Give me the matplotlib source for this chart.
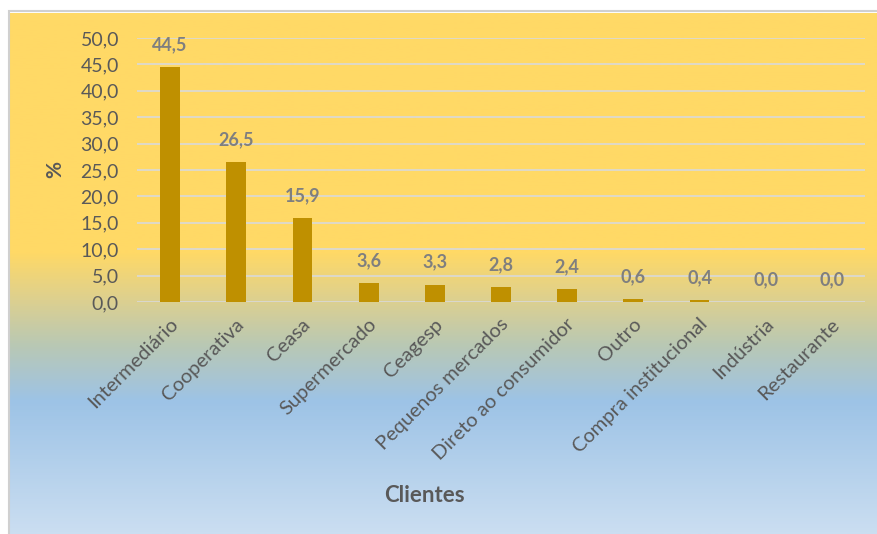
import numpy as np
import matplotlib.pyplot as plt
from matplotlib.colors import LinearSegmentedColormap
from matplotlib.patches import Rectangle
import matplotlib.transforms as mtransforms

plt.rcParams['font.family'] = ['Lato', 'DejaVu Sans']

clientes = ['Intermediário', 'Cooperativa', 'Ceasa', 'Supermercado', 'Ceagesp',
            'Pequenos mercados', 'Direto ao consumidor', 'Outro',
            'Compra institucional', 'Indústria', 'Restaurante']
percentual = [44.5, 26.5, 15.9, 3.6, 3.3, 2.8, 2.4, 0.6, 0.4, 0.0, 0.0]
yticks = [0, 5, 10, 15, 20, 25, 30, 35, 40, 45, 50]

W, H = 878, 534
fig = plt.figure(figsize=(W / 100, H / 100), dpi=100)
fig.patch.set_facecolor('white')

# gradient background for the chart area
bg = fig.add_axes([10 / W, 0, (W - 10) / W, (H - 13) / H])
bg.set_axis_off()
cmap = LinearSegmentedColormap.from_list('fundo', [
    (0.0, '#FFD966'), (0.46, '#FFD966'), (0.55, '#DDD08F'),
    (0.64, '#B8C8B5'), (0.745, '#9DC3E6'), (1.0, '#CBDEF1')])
grad = np.linspace(0, 1, 512).reshape(-1, 1)
bg.imshow(grad, cmap=cmap, aspect='auto', extent=[0, 1, 0, 1], origin='upper')
bg.set_xlim(0, 1)
bg.set_ylim(0, 1)
fig.patches.append(Rectangle((9 / W, -0.02), 1.0, (H - 11.5) / H + 0.02,
                             transform=fig.transFigure, fill=False,
                             edgecolor='#D0D0D0', linewidth=1.5))

ax = fig.add_axes([137 / W, (H - 302) / H, (865 - 137) / W, (302 - 38) / H])
ax.patch.set_alpha(0)
x = np.arange(len(clientes))
ax.bar(x, percentual, width=0.3, color='#BF9000', zorder=3)
ax.set_xlim(-0.5, len(clientes) - 0.5)
ax.set_ylim(0, 50)
ax.set_yticks(yticks)
ax.set_yticklabels([f'{v:.1f}'.replace('.', ',') for v in yticks],
                   color='#595959', fontsize=14)
ax.grid(axis='y', color='#D9D9D9', linewidth=1.2, zorder=0)
for s in ax.spines.values():
    s.set_visible(False)
ax.tick_params(axis='both', length=0)
ax.tick_params(axis='y', pad=13)

ax.set_xticks(x)
ax.set_xticklabels(clientes, rotation=45, ha='right', va='center',
                   rotation_mode='anchor', color='#595959', fontsize=14.5)
ax.tick_params(axis='x', pad=14)
offset = mtransforms.ScaledTranslation(5 / 100, 0, fig.dpi_scale_trans)
for lbl in ax.get_xticklabels():
    lbl.set_transform(lbl.get_transform() + offset)

for xi, v in zip(x, percentual):
    ax.annotate(f'{v:.1f}'.replace('.', ','), (xi, v), xytext=(0, 10),
                textcoords='offset points', ha='center', va='bottom',
                fontsize=13, fontweight='bold', color='#7F7F7F')

fig.text(55 / W, 1 - 170 / H, '%', rotation=90, ha='center', va='center',
         fontsize=15, fontweight='bold', color='#595959')
fig.text(424 / W, 1 - 495 / H, 'Clientes', ha='center', va='center',
         fontsize=16, fontweight='bold', color='#595959')

fig.savefig('out.png', dpi=100)
